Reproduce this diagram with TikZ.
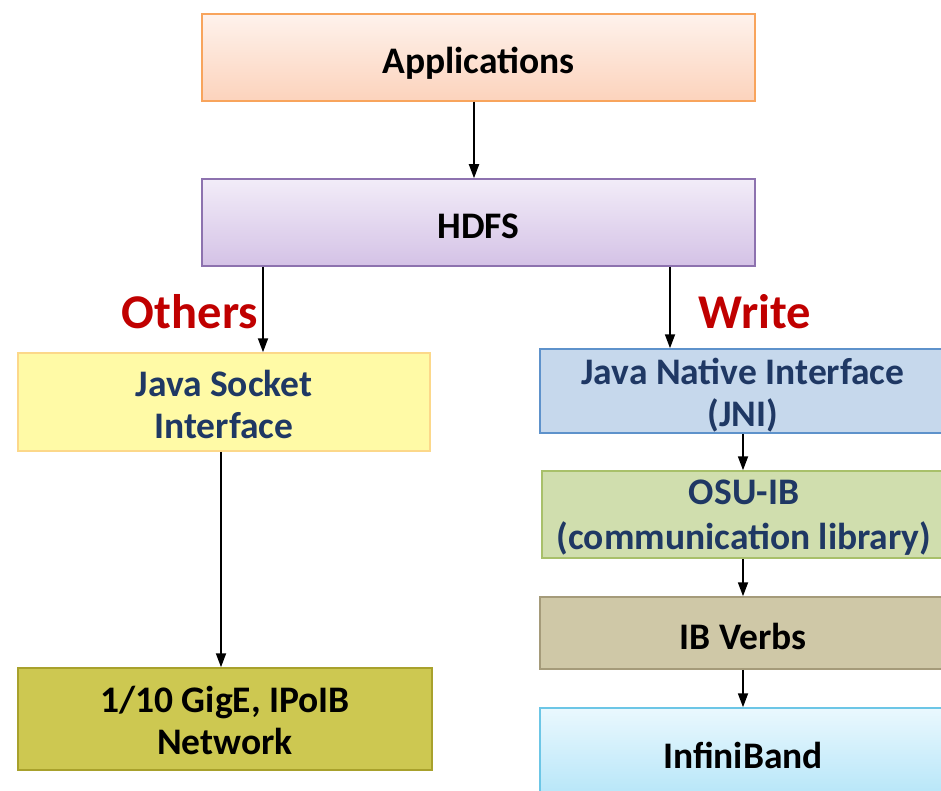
\documentclass[tikz,border=0pt]{standalone}
\usepackage{fontspec}
\setmainfont{Carlito}
\usetikzlibrary{arrows.meta}
\definecolor{navy}{HTML}{1F3864}
\definecolor{darkred}{HTML}{C00000}
\definecolor{appTop}{HTML}{FEF2EC}
\definecolor{appBot}{HTML}{FCD3BC}
\definecolor{appLine}{HTML}{F8A45C}
\definecolor{hdfsTop}{HTML}{F2ECF8}
\definecolor{hdfsBot}{HTML}{D4C2E6}
\definecolor{hdfsLine}{HTML}{8D72AF}
\definecolor{jsiFill}{HTML}{FFFAA6}
\definecolor{jsiLine}{HTML}{FCD88A}
\definecolor{jniFill}{HTML}{C6D8EC}
\definecolor{jniLine}{HTML}{5E92CB}
\definecolor{osuFill}{HTML}{D0DEAE}
\definecolor{osuLine}{HTML}{A8C06A}
\definecolor{ibvFill}{HTML}{CFC8A7}
\definecolor{ibvLine}{HTML}{A59B7A}
\definecolor{netFill}{HTML}{CDC851}
\definecolor{netLine}{HTML}{A8A12C}
\definecolor{ibTop}{HTML}{EAF8FE}
\definecolor{ibBot}{HTML}{B4E5F8}
\definecolor{ibLine}{HTML}{6CC6E6}
\tikzset{
  box/.style={draw, line width=1.5pt, inner sep=0pt},
  txt/.style={align=center, inner sep=0pt, font=\bfseries\fontsize{37.5}{42}\selectfont},
  arr/.style={line width=1.8pt, -{Triangle[length=14pt,width=10pt]}},
  lbl/.style={font=\bfseries\fontsize{48.5}{52}\selectfont, text=darkred}
}
\begin{document}
\begin{tikzpicture}[x=1pt,y=-1pt]
\clip (0,0) rectangle (941,791);
\fill[white] (0,0) rectangle (941,791);

% top layers
\node[box, draw=appLine, top color=appTop, bottom color=appBot,
      minimum width=553pt, minimum height=87pt,
      label={[txt, yshift=-6pt]center:Applications}] (app) at (478.5,57.5) {};
\node[box, draw=hdfsLine, top color=hdfsTop, bottom color=hdfsBot,
      minimum width=553pt, minimum height=87pt,
      label={[txt, yshift=-4pt]center:HDFS}] (hdfs) at (478.5,222.5) {};

% socket path
\node[box, draw=jsiLine, fill=jsiFill,
      minimum width=412pt, minimum height=98pt,
      label={[txt, text=navy, yshift=-2pt]center:Java Socket\\Interface}] (jsi) at (224,402) {};
\node[box, draw=netLine, fill=netFill,
      minimum width=414pt, minimum height=102pt,
      label={[txt, yshift=-1pt]center:1/10 GigE, IPoIB\\Network}] (net) at (225,719) {};

% native path
\node[box, draw=jniLine, fill=jniFill,
      minimum width=406pt, minimum height=84pt,
      label={[txt, text=navy, yshift=-4pt]center:Java Native Interface\\(JNI)}] (jni) at (743,391) {};
\node[box, draw=osuLine, fill=osuFill,
      minimum width=404pt, minimum height=87pt,
      label={[txt, text=navy, yshift=-3pt, font=\bfseries\fontsize{37.5}{45}\selectfont]center:OSU-IB\\(communication library)}] (osu) at (744,514.5) {};
\node[box, draw=ibvLine, fill=ibvFill,
      minimum width=406pt, minimum height=72pt,
      label={[txt, yshift=-3pt]center:IB Verbs}] (ibv) at (743,633) {};
\node[box, draw=ibLine, top color=ibTop, bottom color=ibBot,
      minimum width=406pt, minimum height=92pt,
      label={[txt, yshift=-1pt]center:InfiniBand}] (ib) at (743,754) {};

% connector columns
\coordinate (xa) at (474,0);
\coordinate (xl) at (263,0);
\coordinate (xr) at (670,0);
\coordinate (xs) at (221,0);

\draw[arr] (app.south -| xa) -- (hdfs.north -| xa);
\draw[arr] (hdfs.south -| xl) -- (jsi.north -| xl);
\draw[arr] (hdfs.south -| xr) -- (jni.north -| xr);
\draw[arr] (jsi.south -| xs) -- (net.north -| xs);
\draw[arr] (jni.south) -- (osu.north -| jni.south);
\draw[arr] (osu.south -| jni.south) -- (ibv.north);
\draw[arr] (ibv.south) -- (ib.north);

\node[lbl] (others) at (190,312) {Others};
\node[lbl] (write) at (755,312) {Write};
\end{tikzpicture}
\end{document}
